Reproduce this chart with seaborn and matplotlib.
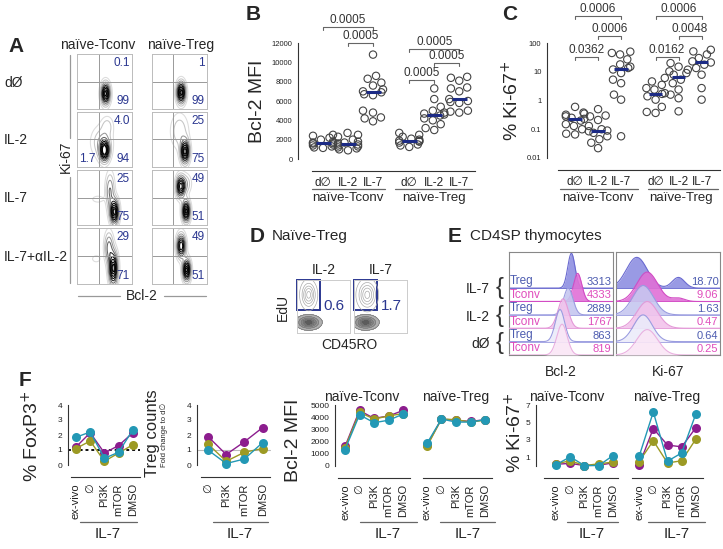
import numpy as np
import pandas as pd
import matplotlib
matplotlib.use('Agg')
import matplotlib.pyplot as plt
import matplotlib.transforms as mtransforms
from matplotlib.lines import Line2D
from matplotlib.patches import Rectangle
import seaborn as sns

sns.set_theme(style='white')
plt.rcParams['font.family'] = ['Liberation Sans', 'DejaVu Sans']
plt.rcParams['axes.linewidth'] = 0.8

# ------------------------------------------------------------------ data
# Panel A (flow plots)
a_rows = ['dØ', 'IL-2', 'IL-7', 'IL-7+αIL-2']
a_cols = ['naïve-Tconv', 'naïve-Treg']
a_tconv_top = ['0.1', '4.0', '25', '29']
a_tconv_bot = ['99', '94', '75', '71']
a_tconv_left = ['', '1.7', '', '']
a_treg_top = ['1', '25', '49', '49']
a_treg_bot = ['99', '75', '51', '51']
# populations: (x centre, y centre, x spread, y spread, weight)
a_tconv_pops = [
    [(0.52, 0.28, 0.05, 0.12, 1.0)],
    [(0.50, 0.30, 0.055, 0.12, 1.0), (0.45, 0.45, 0.12, 0.18, 0.22), (0.55, 0.75, 0.07, 0.11, 0.15)],
    [(0.68, 0.24, 0.05, 0.14, 1.0), (0.60, 0.62, 0.05, 0.2, 0.35), (0.38, 0.47, 0.07, 0.04, 0.12)],
    [(0.66, 0.28, 0.05, 0.18, 1.0), (0.58, 0.65, 0.05, 0.17, 0.4), (0.35, 0.45, 0.05, 0.04, 0.12)],
]
a_treg_pops = [
    [(0.53, 0.30, 0.05, 0.12, 1.0)],
    [(0.60, 0.28, 0.05, 0.13, 1.0), (0.50, 0.65, 0.1, 0.2, 0.2)],
    [(0.52, 0.70, 0.05, 0.12, 0.9), (0.62, 0.25, 0.045, 0.12, 1.0), (0.62, 0.75, 0.06, 0.11, 0.2)],
    [(0.53, 0.68, 0.05, 0.13, 0.85), (0.63, 0.25, 0.045, 0.12, 1.0)],
]

# Panel B (Bcl-2 MFI)
b_conditions = ['d∅', 'IL-2', 'IL-7']
b_groups = ['naïve-Tconv', 'naïve-Treg']
b_tconv_d0 = [2500, 2400, 2200, 2000, 1800, 1700, 1650, 1600, 1500, 1400, 1300, 1200, 1150]
b_tconv_il2 = [2700, 2500, 2300, 2000, 1800, 1700, 1600, 1500, 1400, 1300, 1200, 1100, 1000, 900]
b_tconv_il7 = [10800, 8600, 8300, 7900, 7600, 7200, 7000, 6900, 6700, 6600, 5000, 4800, 4300, 4200, 3900]
b_treg_d0 = [2700, 2500, 2300, 2100, 2000, 1900, 1850, 1800, 1700, 1500, 1400, 1250]
b_treg_il2 = [7300, 6200, 5400, 5000, 4800, 4700, 4600, 4500, 4200, 4000, 3600, 3200, 3000]
b_treg_il7 = [8500, 8400, 8100, 7400, 7300, 7000, 6200, 6000, 5900, 5800, 5000, 4900, 4800]
b_pvals = ['0.0005', '0.0005', '0.0005', '0.0005', '0.0005']

# Panel C (% Ki-67+)
c_tconv_d0 = [0.6, 0.38, 0.35, 0.32, 0.28, 0.25, 0.23, 0.2, 0.15, 0.13, 0.1, 0.07, 0.066]
c_tconv_il2 = [0.5, 0.3, 0.28, 0.21, 0.13, 0.1, 0.09, 0.085, 0.075, 0.057, 0.045, 0.034, 0.022]
c_tconv_il7 = [50, 45, 40, 27, 18, 15, 13.5, 12, 9, 5.3, 4, 1.6, 1.07, 0.057]
c_treg_d0 = [6.1, 4.6, 3.5, 2.7, 2.4, 1.8, 1.7, 1.4, 1.07, 0.6, 0.4, 0.37]
c_treg_il2 = [20, 15, 11.8, 10.3, 9, 7.9, 5.3, 4, 2.4, 1.6, 1.2, 0.42]
c_treg_il7 = [58, 51, 40, 30, 23, 21, 17.6, 13.5, 7.9, 2.7, 1.07]
c_pvals_tconv = ['0.0006', '0.0006', '0.0362']
c_pvals_treg = ['0.0006', '0.0048', '0.0162']

# Panel D
d_conditions = ['IL-2', 'IL-7']
d_values = ['0.6', '1.7']

# Panel E
e_cell = ['Treg', 'Tconv', 'Treg', 'Tconv', 'Treg', 'Tconv']
e_groups = ['IL-7', 'IL-2', 'dØ']
e_bcl2_vals = ['3313', '4333', '2889', '1767', '863', '819']
e_ki67_vals = ['18.70', '9.06', '1.63', '0.47', '0.64', '0.25']
# histogram modes: (position, width, height)
e_bcl2_modes = [[(0.60, 0.035, 2.6)], [(0.66, 0.04, 2.1)], [(0.57, 0.045, 2.0)],
                [(0.52, 0.05, 2.2)], [(0.49, 0.045, 2.4)], [(0.51, 0.05, 2.3)]]
e_ki67_modes = [[(0.2, 0.1, 2.3), (0.6, 0.06, 0.8)], [(0.3, 0.1, 2.2), (0.6, 0.06, 0.25)],
                [(0.26, 0.1, 2.2)], [(0.3, 0.1, 2.0)], [(0.26, 0.09, 2.0)], [(0.3, 0.1, 1.9)]]

# Panel F
f_cats = ['ex-vivo', '∅', 'PI3K', 'mTOR', 'DMSO']
f_count_cats = ['∅', 'PI3K', 'mTOR', 'DMSO']
f_donors = ['d1', 'd2', 'd3']
f_foxp3 = {'d1': [1.2, 2.15, 0.8, 1.3, 2.15], 'd2': [1.1, 1.6, 0.25, 0.8, 1.35],
           'd3': [1.85, 2.2, 0.45, 0.85, 2.35]}
f_counts = {'d1': [1.9, 0.7, 1.55, 2.5], 'd2': [1.4, 0.25, 0.85, 1.1], 'd3': [1.0, 0.1, 0.4, 1.5]}
f_bcl2_tconv = {'d1': [1600, 4550, 3900, 4100, 4550], 'd2': [1500, 4400, 3850, 4100, 4300],
                'd3': [1350, 4200, 3550, 3750, 4250]}
f_bcl2_treg = {'d1': [1700, 3850, 3750, 3650, 3800], 'd2': [1600, 3850, 3800, 3600, 3750],
               'd3': [1850, 3850, 3600, 3600, 3800]}
f_ki67_tconv = {'d1': [0.2, 0.3, 0.05, 0.1, 0.35], 'd2': [0.25, 0.6, 0.05, 0.25, 0.45],
                'd3': [0.15, 1.05, 0.05, 0.05, 1.2]}
f_ki67_treg = {'d1': [0.1, 4.3, 2.4, 2.2, 4.4], 'd2': [0.5, 2.9, 0.35, 0.6, 3.1],
               'd3': [1.1, 6.2, 0.55, 1.5, 6.0]}

# ------------------------------------------------------------------ styles
NAVY = '#2b3790'
DONOR_COLORS = {'d1': '#8c1d8e', 'd2': '#9c9a24', 'd3': '#2398b5'}
TREG_C = '#4d5cb0'
TCONV_C = '#e04cbc'

W, H = 723, 549
fig = plt.figure(figsize=(W / 100, H / 100), dpi=100)


def add_ax(x0, y0, x1, y1):
    return fig.add_axes([x0 / W, 1 - y1 / H, (x1 - x0) / W, (y1 - y0) / H])


def ftext(x, y, s, **kw):
    kw.setdefault('ha', 'center')
    kw.setdefault('va', 'center')
    fig.text(x / W, 1 - y / H, s, **kw)


def fline(x0, x1, y0, y1, color='#666666', lw=0.9, **kw):
    fig.add_artist(Line2D([x0 / W, x1 / W], [1 - y0 / H, 1 - y1 / H], color=color, lw=lw, **kw))


PX2PT = 0.72


def style_spines(ax, left=True, bottom_out=12):
    for s in ['top', 'right']:
        ax.spines[s].set_visible(False)
    ax.spines['left'].set_visible(left)
    ax.spines['left'].set_color('#333333')
    ax.spines['bottom'].set_color('#333333')
    ax.spines['bottom'].set_position(('outward', bottom_out * PX2PT))
    ax.tick_params(axis='both', which='both', direction='out', length=2.5, width=0.7,
                   color='#333333', pad=1.5, labelcolor='#222222')


# ------------------------------------------------------------------ panel A
ftext(16, 46, 'A', fontsize=15, fontweight='bold')
ftext(98, 45, a_cols[0], fontsize=10)
ftext(181, 45, a_cols[1], fontsize=10)
row_y = [(54, 109), (112, 167), (170, 225), (228, 284)]
col_x = [(77, 132), (152, 207)]
for r, lab in enumerate(a_rows):
    ftext(4, (row_y[r][0] + row_y[r][1]) / 2 + 1, lab, fontsize=10, ha='left')
gx = np.linspace(0, 1, 150)
GX, GY = np.meshgrid(gx, gx)
for c, (pops_all, tops, bots) in enumerate([(a_tconv_pops, a_tconv_top, a_tconv_bot),
                                            (a_treg_pops, a_treg_top, a_treg_bot)]):
    for r in range(4):
        ax = add_ax(col_x[c][0], row_y[r][0], col_x[c][1], row_y[r][1])
        Z = np.zeros_like(GX)
        for cx, cy, sx, sy, w in pops_all[r]:
            Z += w * np.exp(-0.5 * (((GX - cx) / sx) ** 2 + ((GY - cy) / sy) ** 2))
        ax.contour(GX, GY, Z, levels=[0.05, 0.12, 0.22, 0.34, 0.47, 0.6, 0.73, 0.86, 0.95],
                   cmap='Greys', vmin=-0.1, vmax=0.55, linewidths=0.75)
        ax.axvline(0.4 if c == 0 else 0.38, color='#999999', lw=0.7)
        ax.axhline(0.5, color='#999999', lw=0.7)
        ax.set_xlim(0, 1)
        ax.set_ylim(0, 1)
        ax.set_xticks([])
        ax.set_yticks([])
        for s in ax.spines.values():
            s.set_color('#bbbbbb')
            s.set_linewidth(0.7)
        ax.text(0.96, 0.95, tops[r], transform=ax.transAxes, ha='right', va='top',
                fontsize=8.5, color=NAVY)
        ax.text(0.96, 0.04, bots[r], transform=ax.transAxes, ha='right', va='bottom',
                fontsize=8.5, color=NAVY)
        if c == 0 and a_tconv_left[r]:
            ax.text(0.03, 0.04, a_tconv_left[r], transform=ax.transAxes, ha='left',
                    va='bottom', fontsize=8.5, color=NAVY)
ftext(66, 157, 'Ki-67', fontsize=10, rotation=90)
fline(70, 70, 55, 138, color='#999999')
fline(70, 70, 177, 283, color='#999999')
ftext(142, 296, 'Bcl-2', fontsize=10)
fline(78, 120, 296, 296, color='#999999')
fline(164, 206, 296, 296, color='#999999')


# ------------------------------------------------------------------ helpers B/C
def swarm_panel(ax, groups, positions, log=False):
    rows = []
    for vals, p in zip(groups, positions):
        for v in vals:
            rows.append({'pos': p, 'val': v})
    df = pd.DataFrame(rows)
    if log:
        ax.set_yscale('log')
    sns.swarmplot(data=df, x='pos', y='val', native_scale=True, ax=ax, size=2.7,
                  color='white', edgecolor='#444444', linewidth=0.8, warn_thresh=1)
    for coll in ax.collections:
        coll.set_facecolor('none')
        coll.set_edgecolor('#444444')
        coll.set_sizes([28])
        coll.set_clip_on(False)
    for vals, p in zip(groups, positions):
        ax.hlines(np.median(vals), p - 0.3, p + 0.3, color='#1c2b85', lw=2.2, zorder=5,
                  clip_on=False)


def bracket(ax, x1, x2, ypx, label, fs=8.5):
    tr = mtransforms.blended_transform_factory(ax.transData, fig.transFigure)
    y = 1 - ypx / H
    d = 3 / H
    ax.plot([x1, x1, x2, x2], [y - d, y, y, y - d], transform=tr, color='#666666', lw=0.8,
            clip_on=False)
    ax.text((x1 + x2) / 2, y + 1 / H, label, transform=tr, ha='center', va='bottom',
            fontsize=fs, color='#333333')


# ------------------------------------------------------------------ panel B
ftext(253, 15, 'B', fontsize=15, fontweight='bold')
b_pos = [0, 1, 2, 3.45, 4.45, 5.45]
axB = add_ax(298, 43, 475, 159)
swarm_panel(axB, [b_tconv_d0, b_tconv_il2, b_tconv_il7, b_treg_d0, b_treg_il2, b_treg_il7], b_pos)
axB.set_xlim(-1.0, 6.08)
axB.set_ylim(0, 12000)
axB.set_yticks(range(0, 12001, 2000))
axB.set_xticks(b_pos, b_conditions * 2)
style_spines(axB)
axB.spines['bottom'].set_bounds(-0.44, 6.08)
axB.tick_params(axis='y', labelsize=5.5)
axB.tick_params(axis='x', labelsize=8.5, pad=2)
axB.set_xlabel('')
axB.set_ylabel('Bcl-2 MFI', fontsize=14, labelpad=4)
bracket(axB, 0, 2, 27, b_pvals[0])
bracket(axB, 1, 2, 43, b_pvals[1])
bracket(axB, 3.45, 5.45, 49, b_pvals[2])
bracket(axB, 4.45, 5.45, 63, b_pvals[3])
bracket(axB, 3.45, 4.45, 80, b_pvals[4])
fline(312, 385, 189, 189)
fline(395, 472, 189, 189)
ftext(348, 198, b_groups[0], fontsize=9.5)
ftext(434, 198, b_groups[1], fontsize=9.5)

# ------------------------------------------------------------------ panel C
ftext(510, 15, 'C', fontsize=15, fontweight='bold')
c_pos = [0, 1, 2, 3.5, 4.5, 5.5]
axC = add_ax(547, 43, 720, 158)
swarm_panel(axC, [c_tconv_d0, c_tconv_il2, c_tconv_il7, c_treg_d0, c_treg_il2, c_treg_il7],
            c_pos, log=True)
axC.set_xlim(-1.22, 6.3)
axC.set_ylim(0.01, 100)
axC.set_yticks([0.01, 0.1, 1, 10, 100], ['0.01', '0.1', '1', '10', '100'])
axC.yaxis.set_minor_locator(matplotlib.ticker.NullLocator())
axC.set_xticks(c_pos, b_conditions * 2)
style_spines(axC)
axC.spines['bottom'].set_bounds(-0.74, 6.3)
axC.tick_params(axis='y', labelsize=5.5)
axC.tick_params(axis='x', labelsize=8.5, pad=2)
axC.set_xlabel('')
axC.set_ylabel('% Ki-67$^{+}$', fontsize=14, labelpad=3)
bracket(axC, 0, 2, 16, c_pvals_tconv[0])
bracket(axC, 1, 2, 36, c_pvals_tconv[1])
bracket(axC, 0, 1, 57, c_pvals_tconv[2])
bracket(axC, 3.5, 5.5, 16, c_pvals_treg[0])
bracket(axC, 4.5, 5.5, 36, c_pvals_treg[1])
bracket(axC, 3.5, 4.5, 57, c_pvals_treg[2])
fline(560, 638, 189, 189)
fline(648, 718, 189, 189)
ftext(598, 198, b_groups[0], fontsize=9.5)
ftext(681, 198, b_groups[1], fontsize=9.5)

# ------------------------------------------------------------------ panel D
ftext(257, 236, 'D', fontsize=15, fontweight='bold')
ftext(272, 236, 'Naïve-Treg', fontsize=11, ha='left')
d_box_x = [(297, 350), (354, 407)]
d_upper_pops = [(0.22, 0.72, 0.08, 0.14, 1.0), (0.25, 0.72, 0.1, 0.15, 1.0)]
for i, (x0, x1) in enumerate(d_box_x):
    ax = add_ax(x0, 280, x1, 333)
    Zl = np.exp(-0.5 * (((GX - 0.22) / 0.12) ** 2 + ((GY - 0.2) / 0.07) ** 2))
    ax.contourf(GX, GY, Zl, levels=[0.1, 0.3, 0.5, 0.7, 0.9, 1.01],
                colors=['#b0b0b0', '#999999', '#858585', '#707070', '#5c5c5c'])
    ax.contour(GX, GY, Zl, levels=[0.1, 0.3, 0.5, 0.7], colors='#777777', linewidths=0.5)
    cx, cy, sx, sy, w = d_upper_pops[i]
    Zu = w * np.exp(-0.5 * (((GX - cx) / sx) ** 2 + ((GY - cy) / sy) ** 2))
    ax.contour(GX, GY, Zu, levels=[0.1, 0.3, 0.5, 0.7, 0.9], colors='#aaaaaa', linewidths=0.5)
    ax.add_patch(Rectangle((0.0, 0.43), 0.44, 0.57, fill=False, edgecolor=NAVY, lw=1.4,
                           clip_on=False))
    ax.set_xlim(0, 1)
    ax.set_ylim(0, 1)
    ax.set_xticks([])
    ax.set_yticks([])
    for s in ax.spines.values():
        s.set_color('#cccccc')
        s.set_linewidth(0.7)
    ax.text(0.5, 0.5, d_values[i], transform=ax.transAxes, ha='left', va='center',
            fontsize=11, color=NAVY)
    ftext((x0 + x1) / 2, 270, d_conditions[i], fontsize=10)
ftext(283, 307, 'EdU', fontsize=10, rotation=90)
ftext(349, 345, 'CD45RO', fontsize=10)

# ------------------------------------------------------------------ panel E
ftext(455, 236, 'E', fontsize=15, fontweight='bold')
ftext(470, 236, 'CD4SP thymocytes', fontsize=11, ha='left')
e_fill = ['#8e8fe2', '#e070d6', '#c6c7f0', '#f2c4ec', '#ebebfa', '#fae6f6']
e_edge = ['#6a6ad0', '#d24cc4', '#9a9ce0', '#e49ad8', '#9a9ce0', '#eab0e0']
ex = np.linspace(0, 1, 300)
for k, (modes, vals, (x0, x1)) in enumerate([(e_bcl2_modes, e_bcl2_vals, (509, 613)),
                                             (e_ki67_modes, e_ki67_vals, (616, 720))]):
    ax = add_ax(x0, 252, x1, 355)
    for i in range(6):
        base = 5 - i
        yv = np.zeros_like(ex)
        for m, s, h in modes[i]:
            yv += h * np.exp(-0.5 * ((ex - m) / s) ** 2)
        sns.lineplot(x=ex, y=base + yv, ax=ax, color=e_edge[i], lw=0.8, zorder=2 + 2 * i)
        ax.fill_between(ex, base, base + yv, color=e_fill[i], alpha=0.9, lw=0, zorder=1 + 2 * i)
        ax.axhline(base, color=e_edge[i], lw=0.6, zorder=2 + 2 * i)
        ax.text(0.985, base + 0.45, vals[i], ha='right', va='center', fontsize=8,
                color=TREG_C if e_cell[i] == 'Treg' else TCONV_C, zorder=20)
        if k == 0:
            ax.text(0.01, base + 0.5, e_cell[i], ha='left', va='center', fontsize=8.5,
                    color=TREG_C if e_cell[i] == 'Treg' else TCONV_C, zorder=20)
    ax.set_xlim(0, 1)
    ax.set_ylim(0, 7.7)
    ax.set_xticks([])
    ax.set_yticks([])
    for s in ax.spines.values():
        s.set_color('#888888')
        s.set_linewidth(0.8)
ftext(561, 372, 'Bcl-2', fontsize=10)
ftext(668, 372, 'Ki-67', fontsize=10)
for lab, yc in zip(e_groups, [289, 317, 344]):
    ftext(490, yc, lab, fontsize=10, ha='right')
    ftext(500, yc - 1, '{', fontsize=17, fontweight='light', color='#333333')


# ------------------------------------------------------------------ panel F
def f_panel(box, cats, data, ylim, yticks, left=True, hline=None):
    ax = add_ax(*box)
    rows = []
    for d in f_donors:
        for i, v in enumerate(data[d]):
            rows.append({'pos': i, 'val': v, 'donor': d})
    df = pd.DataFrame(rows)
    if hline is not None:
        ax.axhline(hline[0], ls=hline[1], color=hline[2], lw=hline[3], zorder=0)
    sns.lineplot(data=df, x='pos', y='val', hue='donor', palette=DONOR_COLORS, marker='o',
                 markersize=6.5, markeredgewidth=0, lw=1.0, legend=False, ax=ax)
    for ln in ax.lines:
        ln.set_clip_on(False)
    ax.set_ylim(*ylim)
    ax.set_yticks(yticks)
    ax.set_xticks(range(len(cats)))
    ax.set_xticklabels(cats)
    style_spines(ax, left=left)
    if not left:
        ax.set_yticks([])
    ax.tick_params(axis='y', labelsize=6)
    ax.tick_params(axis='x', labelsize=8, pad=2, labelrotation=90)
    ax.set_xlabel('')
    ax.set_ylabel('')
    return ax


ftext(25, 381, 'F', fontsize=15, fontweight='bold')
# F1 FoxP3
ax = f_panel((68, 405, 140, 465), f_cats, f_foxp3, (0, 4), [0, 1, 2, 3, 4],
             hline=(1, (0, (1.5, 1.5)), '#111111', 1.4))
ax.set_xlim(-0.56, 4.5)
ax.spines['bottom'].set_bounds(-0.35, 4.5)
ftext(32, 436, '% FoxP3$^{+}$', fontsize=14, rotation=90)
fline(80, 137, 522, 522)
ftext(108, 534, 'IL-7', fontsize=11)
# F2 Treg counts
ax = f_panel((197, 405, 270, 465), f_count_cats, f_counts, (0, 4), [0, 1, 2, 3, 4],
             hline=(1, '-', '#bbbbbb', 0.8))
ax.set_xlim(-0.6, 3.4)
ax.spines['bottom'].set_bounds(-0.4, 3.4)
ftext(152, 433, 'Treg counts', fontsize=12, rotation=90)
ftext(164, 435, 'Fold change to d∅', fontsize=5.5, rotation=90)
fline(213, 268, 522, 522)
ftext(240, 534, 'IL-7', fontsize=11)
# F3 Bcl-2 Tconv
ax = f_panel((335, 405, 410, 466), f_cats, f_bcl2_tconv, (0, 5000), range(0, 5001, 1000))
ax.set_xlim(-0.69, 4.48)
ax.spines['bottom'].set_bounds(-0.5, 4.48)
ftext(293, 440, 'Bcl-2 MFI', fontsize=14, rotation=90)
ftext(362, 397, 'naïve-Tconv', fontsize=10)
fline(360, 417, 522, 522)
ftext(388, 534, 'IL-7', fontsize=11)
# F4 Bcl-2 Treg
ax = f_panel((420, 405, 492, 466), f_cats, f_bcl2_treg, (0, 5000), [], left=False)
ax.set_xlim(-0.48, 4.48)
ax.spines['bottom'].set_bounds(-0.3, 4.48)
ftext(456, 397, 'naïve-Treg', fontsize=10)
fline(440, 495, 522, 522)
ftext(468, 534, 'IL-7', fontsize=11)
# F5 Ki-67 Tconv
ax = f_panel((536, 405, 618, 466), f_cats, f_ki67_tconv, (0, 7), [1, 3, 5, 7])
ax.set_xlim(-1.4, 4.35)
ax.spines['bottom'].set_bounds(-0.85, 4.35)
ftext(515, 433, '% Ki-67$^{+}$', fontsize=14, rotation=90)
ftext(567, 397, 'naïve-Tconv', fontsize=10)
fline(567, 618, 522, 522)
ftext(592, 534, 'IL-7', fontsize=11)
# F6 Ki-67 Treg
ax = f_panel((632, 405, 703, 466), f_cats, f_ki67_treg, (0, 7), [], left=False)
ax.set_xlim(-0.5, 4.5)
ax.spines['bottom'].set_bounds(-0.5, 4.5)
ftext(667, 397, 'naïve-Treg', fontsize=10)
fline(648, 705, 522, 522)
ftext(677, 534, 'IL-7', fontsize=11)

fig.savefig('out.png', dpi=100, facecolor='white')
